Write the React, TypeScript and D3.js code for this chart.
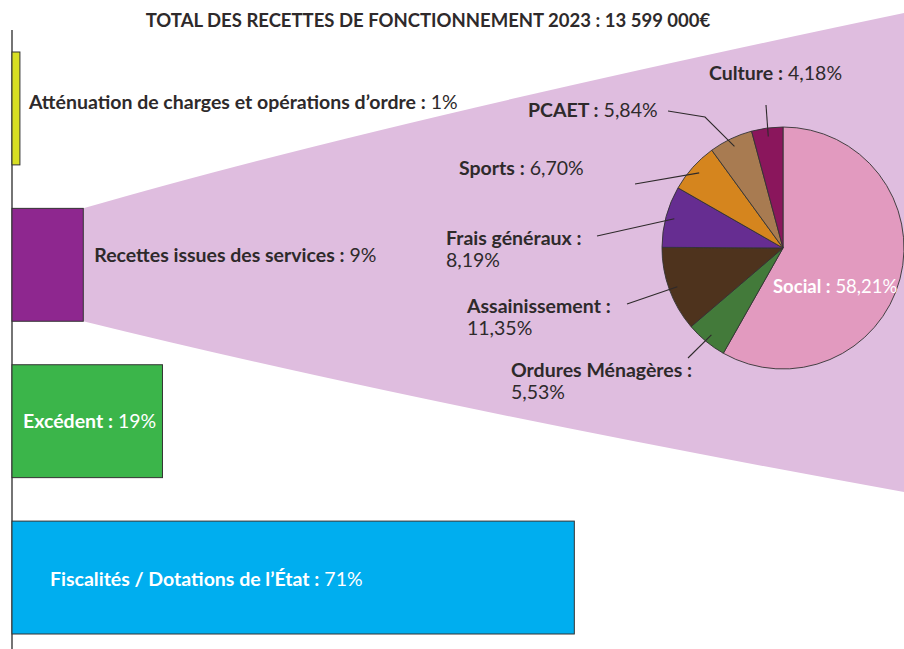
import React from 'react';
import * as d3 from 'd3';

// Data
const title = 'TOTAL DES RECETTES DE FONCTIONNEMENT 2023 : 13 599 000€';

const barCategories = [
  'Atténuation de charges et opérations d’ordre',
  'Recettes issues des services',
  'Excédent',
  'Fiscalités / Dotations de l’État',
];
const barValues = [1, 9, 19, 71];
const barValueLabels = ['1%', '9%', '19%', '71%'];

const pieCategories = [
  'Social',
  'Ordures Ménagères',
  'Assainissement',
  'Frais généraux',
  'Sports',
  'PCAET',
  'Culture',
];
const pieValues = [58.21, 5.53, 11.35, 8.19, 6.7, 5.84, 4.18];
const pieValueLabels = ['58,21%', '5,53%', '11,35%', '8,19%', '6,70%', '5,84%', '4,18%'];

// Styles
const width = 904;
const height = 649;
const font = 'Lato, "Open Sans", sans-serif';
const ink = '#2e2a2b';
const barColors = ['#d7df23', '#8e278f', '#3bb54a', '#00aeef'];
const pieColors = ['#e29abf', '#437a3a', '#4e331d', '#662d91', '#d5851e', '#a87b51', '#8a165c'];
const fanColor = '#dfbddf';

// label layout for bars (dx from bar start/end, dy from band centre)
const barLabelLayout = [
  { dx: 9, dy: -6, inside: false },
  { dx: 11, dy: -10, inside: false },
  { dx: 11, dy: 0, inside: true },
  { dx: 38, dy: 1, inside: true },
];

// label layout for pie: text position + leader line outer points
const pieLabelLayout = [
  { x: 773, y: 293, size: 18.5, twoLines: false, white: true, pts: [] as [number, number][] },
  { x: 511, y: 377, twoLines: true, pts: [[688, 358]] },
  { x: 467, y: 313, twoLines: true, pts: [[627, 304]] },
  { x: 446, y: 245, twoLines: true, pts: [[597, 236]] },
  { x: 459, y: 175, twoLines: false, pts: [[635, 184]] },
  { x: 528, y: 117, twoLines: false, pts: [[668, 111], [705, 117]] },
  { x: 709, y: 80, twoLines: false, pts: [[766, 105]] },
];

const App = () => {
  const margin = { left: 12, top: 52, bottom: 15 };

  const x = d3.scaleLinear().domain([0, 100]).range([margin.left, margin.left + 792]);
  const y = d3
    .scaleBand<string>()
    .domain(barCategories)
    .range([margin.top, height - margin.bottom])
    .paddingInner(0.278)
    .paddingOuter(0);

  // pie
  const cx = 783;
  const cy = 248;
  const r = 121;
  const pie = d3.pie<number>().sort(null).value((d) => d);
  const arcs = pie(pieValues);
  const arc = d3.arc<d3.PieArcDatum<number>>().innerRadius(0).outerRadius(r);

  // fan from the "services" bar to the pie
  const fx = x(barValues[1]);
  const fy0 = y(barCategories[1])!;
  const fy1 = fy0 + y.bandwidth();
  const fan = d3.path();
  fan.moveTo(fx, fy0);
  fan.quadraticCurveTo(369, 125, width, 13);
  fan.lineTo(width + 5, 13);
  fan.lineTo(width + 5, 492);
  fan.lineTo(width, 492);
  fan.quadraticCurveTo(418, 404, fx, fy1);
  fan.closePath();

  return (
    <svg
      width={width}
      height={height}
      style={{ position: 'absolute', left: 0, top: 0, fontFamily: font }}
    >
      <rect width={width} height={height} fill="#fff" />
      <path d={fan.toString()} fill={fanColor} />

      {/* title */}
      <text x={428} y={27} textAnchor="middle" fontSize={18.5} fontWeight={700} fill={ink}>
        {title}
      </text>

      {/* axis line */}
      <line x1={margin.left} x2={margin.left} y1={30} y2={height} stroke="#3a3a3a" strokeWidth={1.4} />

      {/* bars */}
      {barCategories.map((c, i) => (
        <rect
          key={c}
          x={x(0)}
          y={y(c)}
          width={x(barValues[i]) - x(0)}
          height={y.bandwidth()}
          fill={barColors[i]}
          stroke="#333"
          strokeWidth={1}
        />
      ))}
      {barCategories.map((c, i) => {
        const lay = barLabelLayout[i];
        const tx = lay.inside ? x(0) + lay.dx : x(barValues[i]) + lay.dx;
        const ty = y(c)! + y.bandwidth() / 2 + lay.dy + 7;
        return (
          <text key={c} x={tx} y={ty} fontSize={19.5} fill={lay.inside ? '#fff' : ink}>
            <tspan fontWeight={700}>{c} :</tspan>
            <tspan> {barValueLabels[i]}</tspan>
          </text>
        );
      })}

      {/* pie */}
      <g transform={`translate(${cx},${cy})`}>
        {arcs.map((a, i) => (
          <path key={pieCategories[i]} d={arc(a)!} fill={pieColors[i]} stroke="#333" strokeWidth={0.9} />
        ))}
      </g>

      {/* leader lines */}
      {arcs.map((a, i) => {
        const lay = pieLabelLayout[i];
        if (!lay.pts.length) return null;
        const mid = (a.startAngle + a.endAngle) / 2;
        const rr = r * 0.93;
        const inner: [number, number] = [cx + rr * Math.sin(mid), cy - rr * Math.cos(mid)];
        return (
          <path
            key={'l' + i}
            d={d3.line()([...lay.pts, inner])!}
            fill="none"
            stroke={ink}
            strokeWidth={1.1}
          />
        );
      })}

      {/* pie labels */}
      {pieCategories.map((c, i) => {
        const lay = pieLabelLayout[i];
        const fill = lay.white ? '#fff' : ink;
        const size = lay.size ?? 19.5;
        if (lay.twoLines) {
          return (
            <text key={'t' + c} x={lay.x} y={lay.y} fontSize={size} fill={fill}>
              <tspan fontWeight={700}>{c} :</tspan>
              <tspan x={lay.x} dy={22}>
                {pieValueLabels[i]}
              </tspan>
            </text>
          );
        }
        return (
          <text key={'t' + c} x={lay.x} y={lay.y} fontSize={size} fill={fill}>
            <tspan fontWeight={700}>{c} :</tspan>
            <tspan> {pieValueLabels[i]}</tspan>
          </text>
        );
      })}
    </svg>
  );
};

export default App;
